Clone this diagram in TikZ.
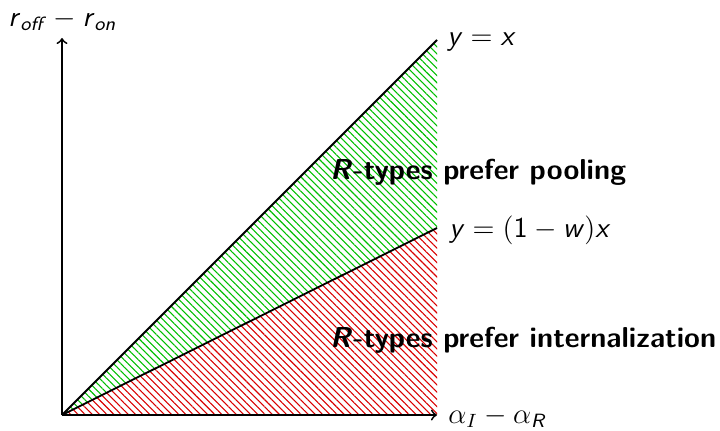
\documentclass[tikz,border=0pt]{standalone}
\usepackage{fontspec}
\usepackage{amsmath}
\usetikzlibrary{patterns.meta}
\newcommand\sv[1]{\textsf{\textit{#1}}}
\begin{document}
\begin{tikzpicture}[x=0.4167pt,y=-0.4167pt,
  axis/.style={line width=0.75pt},
  lbl/.style={anchor=west,inner sep=0pt,font=\sffamily\large},
  reg/.style={anchor=west,inner sep=0pt,font=\sffamily\bfseries\large},
  hatch/.style={pattern={Lines[angle=-45,distance=2.12pt,line width=0.45pt]}}]
\useasboundingbox (0,0) rectangle (720,430);
\coordinate (O) at (62,415);
\coordinate (T) at (437,40);
\coordinate (M) at (437,228);
\coordinate (B) at (437,415);
\coordinate (Y) at (62,38);
\fill[hatch,pattern color=green!75!black] (O) -- (T) -- (M) -- cycle;
\fill[hatch,pattern color=red!85!black] (O) -- (M) -- (B) -- cycle;
\draw[axis] (O) -- (T);
\draw[axis] (O) -- (M);
\draw[axis,->] (O) -- (Y);
\draw[axis,->] (O) -- (B);
\node[lbl] (lx) at (447,42) {$\sv{y} = \sv{x}$};
\node[lbl] (lw) at (449,230) {$\sv{y} = (\textsf{1} - \sv{w})\sv{x}$};
\node[lbl] (la) at (448,417) {$\alpha_{I} - \alpha_{\sv{R}}$};
\node[lbl] (lr) at (8,20) {$\sv{r}_{\sv{off}} - \sv{r}_{\sv{on}}$};
\node[reg] (pp) at (330,172) {\textit{R}-types prefer pooling};
\node[reg] (pi) at (330,340) {\textit{R}-types prefer internalization};
\end{tikzpicture}
\end{document}
